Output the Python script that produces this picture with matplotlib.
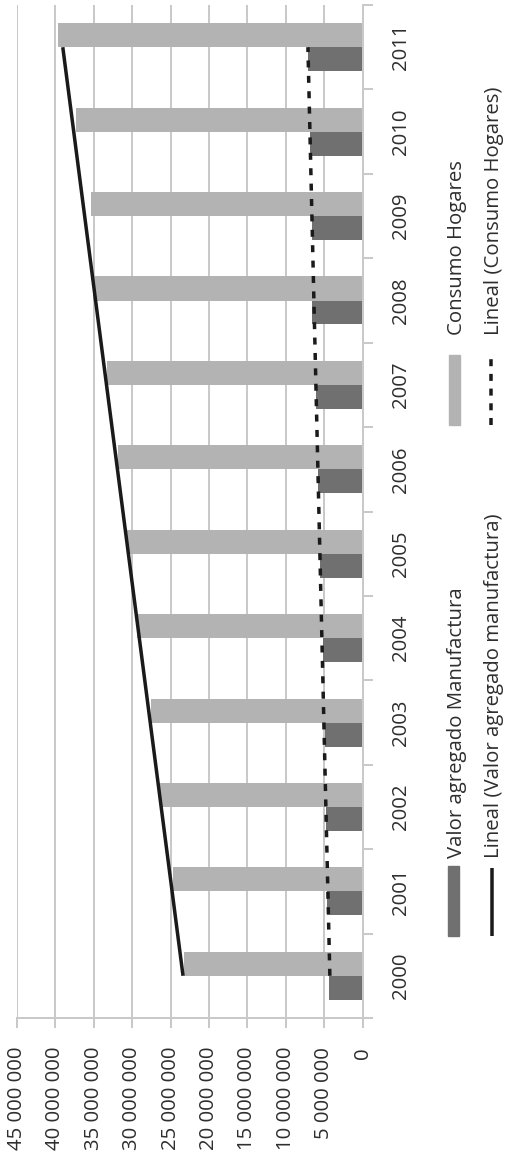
import numpy as np
import matplotlib
matplotlib.use("Agg")
import matplotlib.pyplot as plt
from matplotlib.patches import Rectangle
from matplotlib.lines import Line2D

plt.rcParams['font.family'] = ['Open Sans', 'DejaVu Sans']

# ---- data -------------------------------------------------------------
years = ["2000", "2001", "2002", "2003", "2004", "2005",
         "2006", "2007", "2008", "2009", "2010", "2011"]
manufactura = [4.40e6, 4.62e6, 4.75e6, 4.88e6, 5.22e6, 5.53e6,
               5.79e6, 6.10e6, 6.58e6, 6.58e6, 6.88e6, 7.10e6]
consumo = [23.29e6, 24.73e6, 26.37e6, 27.55e6, 29.40e6, 30.68e6,
           31.81e6, 33.29e6, 35.08e6, 35.38e6, 37.34e6, 39.65e6]
value_ticks = [0, 5e6, 10e6, 15e6, 20e6, 25e6, 30e6, 35e6, 40e6, 45e6]

legend_labels = ["Valor agregado Manufactura", "Consumo Hogares",
                 "Lineal (Valor agregado manufactura)", "Lineal (Consumo Hogares)"]

# ---- style ------------------------------------------------------------
W, H = 506, 1165
DARK = "#707070"
LIGHT = "#b3b3b3"
GRID = "#c9c9c9"
TEXT = "#2e2e2e"
LINE = "#1a1a1a"
FS = 14.7
PT = 72 / 100  # points per pixel at dpi 100


def fx(x):
    return x / W


def fy(y):
    return 1 - y / H


fig = plt.figure(figsize=(W / 100, H / 100), dpi=100)
left, right, top, bottom = 17, 362.7, 5, 1018
ax = fig.add_axes([fx(left), fy(bottom), fx(right - left), (bottom - top) / H])

idx = np.arange(len(years))
bh = 0.285
off = 0.142
ax.barh(idx - off, manufactura, height=bh, color=DARK, zorder=2)
ax.barh(idx + off, consumo, height=bh, color=LIGHT, zorder=2)

# linear trend lines (least-squares fit over the category index)
fit_c = np.polyfit(idx, consumo, 1)
fit_m = np.polyfit(idx, manufactura, 1)
ends = np.array([idx[0], idx[-1]])
ax.plot(np.polyval(fit_c, ends), ends, color=LINE, lw=3.5 * PT,
        solid_capstyle="butt", zorder=3)
ax.plot(np.polyval(fit_m, ends), ends, color=LINE, lw=3.5 * PT,
        linestyle=(0, (2.0, 2.4)), zorder=3)

ax.set_xlim(45e6, 0)
ax.set_ylim(-0.5, len(years) - 0.5)

# value axis (drawn along the bottom)
ax.set_xticks(value_ticks)
ax.set_xticklabels([f"{int(v):,}".replace(",", " ") for v in value_ticks])
ax.grid(axis="x", color=GRID, lw=2 * PT, zorder=0)
ax.set_axisbelow(True)
ax.tick_params(axis="x", direction="out", length=10 * PT, width=2 * PT,
               color=GRID, pad=19 * PT, labelsize=FS, labelcolor=TEXT,
               labelrotation=90)

# category axis (drawn along the right side)
ax.yaxis.tick_right()
ax.set_yticks(idx)
ax.set_yticklabels(years)
ax.set_yticks(np.arange(-0.5, len(years)), minor=True)
ax.tick_params(axis="y", which="major", length=0, pad=28.6 * PT,
               labelsize=FS, labelcolor=TEXT, labelrotation=90)
ax.tick_params(axis="y", which="minor", direction="out", length=10 * PT,
               width=2 * PT, color=GRID)
for lab in ax.get_yticklabels():
    lab.set_va("center")
    lab.set_ha("left")

for s in ("left", "top"):
    ax.spines[s].set_visible(False)
for s in ("bottom", "right"):
    ax.spines[s].set_color(GRID)
    ax.spines[s].set_linewidth(2 * PT)

# ---- legend -----------------------------------------------------------
fig.patches.append(Rectangle((fx(448.3), fy(936)), fx(459 - 448.3), (936 - 866) / H,
                             transform=fig.transFigure, color=DARK))
fig.patches.append(Rectangle((fx(449), fy(425)), fx(460 - 449), (425 - 355) / H,
                             transform=fig.transFigure, color=LIGHT))
fig.lines.append(Line2D([fx(491.7), fx(491.7)], [fy(936), fy(868)],
                        transform=fig.transFigure, color=LINE, lw=3.5 * PT,
                        solid_capstyle="butt"))
fig.lines.append(Line2D([fx(491), fx(491)], [fy(425), fy(355)],
                        transform=fig.transFigure, color=LINE, lw=3.5 * PT,
                        linestyle=(0, (2.0, 2.2))))

for label, x, y in [(legend_labels[0], 457.5, 858),
                    (legend_labels[2], 494.5, 858),
                    (legend_labels[1], 457.5, 335),
                    (legend_labels[3], 494.5, 335)]:
    fig.text(fx(x), fy(y), label, rotation=90, ha="center", va="bottom",
             fontsize=FS, color=TEXT)

fig.savefig("out.png", dpi=100)
